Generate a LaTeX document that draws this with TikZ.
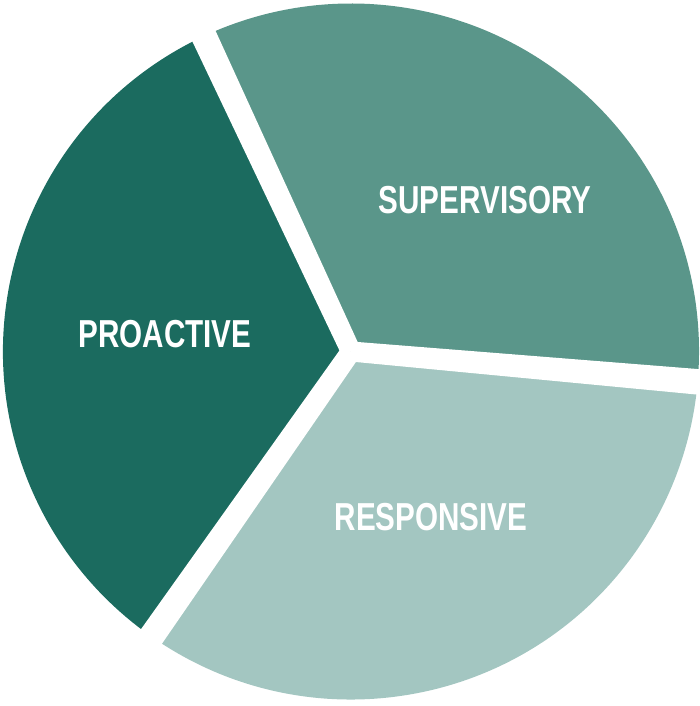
\documentclass[tikz,border=0pt]{standalone}
\usepackage{fontspec}
\setmainfont{Liberation Sans}[FakeStretch=0.76]
\usetikzlibrary{calc}
\definecolor{proC}{HTML}{1B6B5F}
\definecolor{supC}{HTML}{5A968A}
\definecolor{resC}{HTML}{A3C6C1}
\tikzset{
  label/.style={text=white, font=\fontsize{39}{42}\selectfont\bfseries, inner sep=0pt, anchor=center},
  gap/.style={fill=white, draw=none}
}
\newcommand{\gapstrip}[1]{%
  \fill[gap] ($(C)+(#1+90:10)$) -- ($(C)+(#1-90:10)$) --
    ($(C)+(#1:380)+(#1-90:13)$) -- ($(C)+(#1:380)+(#1+90:13)$) -- cycle;}
\begin{document}
\begin{tikzpicture}[x=1pt,y=1pt]
\useasboundingbox (0,0) rectangle (700,706);
\coordinate (C) at (351,354.5);
\fill[supC] (C) -- ++(-5:348) arc[start angle=-5, end angle=115, radius=348] -- cycle;
\fill[proC] (C) -- ++(115:348) arc[start angle=115, end angle=235, radius=348] -- cycle;
\fill[resC] (C) -- ++(235:348) arc[start angle=235, end angle=355, radius=348] -- cycle;
\gapstrip{115}
\gapstrip{-5}
\gapstrip{235}
\node[label] (sup) at (485,506) {SUPERVISORY};
\node[label] (pro) at (165,372) {PROACTIVE};
\node[label] (res) at (431,189) {RESPONSIVE};
\end{tikzpicture}
\end{document}
